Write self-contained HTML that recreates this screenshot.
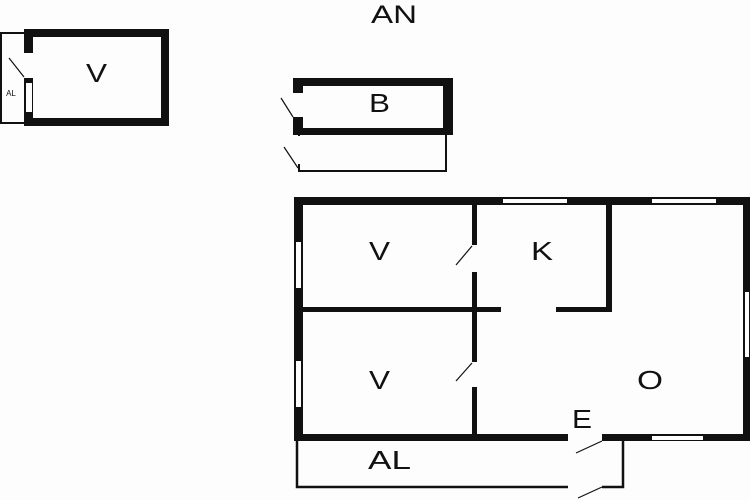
<!DOCTYPE html>
<html><head><meta charset="utf-8"><style>
html,body{margin:0;padding:0;background:#fdfdfd;}
svg{display:block;}
text{font-family:"Liberation Sans",sans-serif;fill:#111;}
</style></head><body>
<svg width="750" height="500" viewBox="0 0 750 500" xmlns="http://www.w3.org/2000/svg">
<rect width="750" height="500" fill="#fdfdfd"/>
<text x="371" y="23" font-size="25" textLength="46" lengthAdjust="spacingAndGlyphs">AN</text>

<!-- small V building -->
<rect x="1" y="33" width="24" height="90" fill="none" stroke="#111" stroke-width="2"/>
<rect x="24" y="29" width="145" height="97" fill="#111"/>
<rect x="33" y="37" width="128" height="81" fill="#fdfdfd"/>
<rect x="24" y="53" width="9" height="25" fill="#fdfdfd"/>
<rect x="26" y="83" width="6" height="29" fill="#fdfdfd"/>
<line x1="9" y1="58" x2="24" y2="77" stroke="#111" stroke-width="1.2"/>
<text x="11" y="96" font-size="8" text-anchor="middle">AL</text>
<text x="86" y="82" font-size="26" textLength="21" lengthAdjust="spacingAndGlyphs">V</text>

<!-- B building -->
<polyline points="299,135 299,171 446,171 446,135" fill="none" stroke="#111" stroke-width="2"/>
<rect x="293" y="78" width="160" height="57" fill="#111"/>
<rect x="303" y="86" width="140" height="42" fill="#fdfdfd"/>
<rect x="293" y="93" width="10" height="24" fill="#fdfdfd"/>
<line x1="281" y1="98" x2="293" y2="117" stroke="#111" stroke-width="1.2"/>
<rect x="297" y="136" width="3" height="28" fill="#fdfdfd"/>
<line x1="284" y1="147" x2="298" y2="168" stroke="#111" stroke-width="1.2"/>
<text x="369" y="112" font-size="26" textLength="21" lengthAdjust="spacingAndGlyphs">B</text>

<!-- main building -->
<polyline points="297,441 297,487 623,487 623,441" fill="none" stroke="#111" stroke-width="2.5"/>
<rect x="568" y="484" width="34" height="6" fill="#fdfdfd"/>
<line x1="578" y1="498" x2="602" y2="487" stroke="#111" stroke-width="1.2"/>

<rect x="294" y="197" width="456" height="244" fill="#111"/>
<rect x="303" y="205" width="440" height="229" fill="#fdfdfd"/>
<rect x="472" y="205" width="5" height="229" fill="#111"/>
<rect x="303" y="307" width="198" height="5" fill="#111"/>
<rect x="556" y="307" width="56" height="5" fill="#111"/>
<rect x="606" y="205" width="6" height="107" fill="#111"/>
<rect x="471" y="245" width="7" height="27" fill="#fdfdfd"/>
<rect x="471" y="362" width="7" height="25" fill="#fdfdfd"/>
<line x1="456" y1="265" x2="472" y2="246" stroke="#111" stroke-width="1.2"/>
<line x1="456" y1="381" x2="472" y2="363" stroke="#111" stroke-width="1.2"/>
<rect x="568" y="433" width="34" height="9" fill="#fdfdfd"/>
<line x1="576" y1="453" x2="602" y2="441" stroke="#111" stroke-width="1.2"/>
<rect x="503" y="199" width="64" height="4" fill="#fdfdfd"/>
<rect x="652" y="199" width="64" height="4" fill="#fdfdfd"/>
<rect x="296" y="242" width="5" height="46" fill="#fdfdfd"/>
<rect x="296" y="361" width="5" height="46" fill="#fdfdfd"/>
<rect x="745" y="292" width="4" height="65" fill="#fdfdfd"/>
<rect x="652" y="436" width="51" height="4" fill="#fdfdfd"/>

<text x="369" y="260" font-size="26" textLength="21" lengthAdjust="spacingAndGlyphs">V</text>
<text x="369" y="389" font-size="26" textLength="21" lengthAdjust="spacingAndGlyphs">V</text>
<text x="531" y="260" font-size="26" textLength="22" lengthAdjust="spacingAndGlyphs">K</text>
<text x="637" y="389" font-size="26" textLength="26" lengthAdjust="spacingAndGlyphs">O</text>
<text x="572" y="428" font-size="26" textLength="20" lengthAdjust="spacingAndGlyphs">E</text>
<text x="368" y="469" font-size="26" textLength="43" lengthAdjust="spacingAndGlyphs">AL</text>
</svg>
</body></html>
